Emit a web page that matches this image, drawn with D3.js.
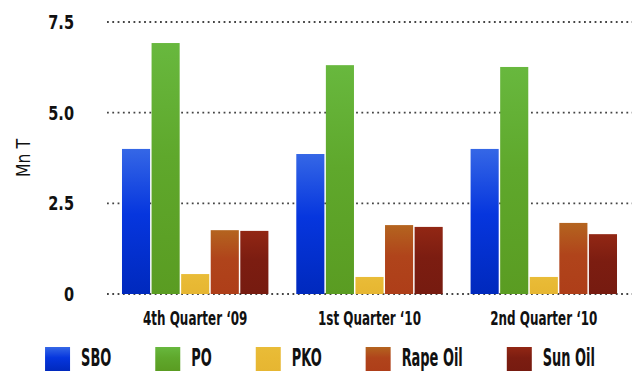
<!DOCTYPE html>
<html>
<head>
<meta charset="utf-8">
<script src="https://cdn.jsdelivr.net/npm/d3@7"></script>
<style>
  html, body { margin: 0; padding: 0; background: #fff; }
  svg { display: block; }
</style>
</head>
<body>
<svg id="chart" width="640" height="371"></svg>
<script>
// Quarterly vegetable oil volumes (million tonnes)
const quarters = ["4th Quarter \u201809", "1st Quarter \u201810", "2nd Quarter \u201810"];
const seriesNames = ["SBO", "PO", "PKO", "Rape Oil", "Sun Oil"];
const sbo = [4.0, 3.86, 4.0];
const po = [6.92, 6.31, 6.26];
const pko = [0.55, 0.47, 0.47];
const rapeOil = [1.76, 1.90, 1.96];
const sunOil = [1.74, 1.85, 1.65];
const yTicks = [0, 2.5, 5.0, 7.5];
const yTickLabels = ["0", "2.5", "5.0", "7.5"];
const yTitle = "Mn T";

const seriesValues = [sbo, po, pko, rapeOil, sunOil];

// Vertical gradient stops per series: [top, mid, bottom]
const seriesGradients = [
  ["#3567e6", "#0636de", "#0029bd"],
  ["#68b83e", "#5fa82c", "#5a9c22"],
  ["#e9bc38", "#e8b934", "#e6b632"],
  ["#b4641f", "#b0441b", "#ae3e19"],
  ["#922714", "#7c1d11", "#761b10"]
];

const svg = d3.select("#chart");
const font = "'DejaVu Sans Condensed', 'DejaVu Sans', sans-serif";

const plot = { left: 107, right: 632, top: 22, bottom: 294 };

const x0 = d3.scaleBand()
  .domain(quarters)
  .range([plot.left, plot.right])
  .paddingInner(0.16)
  .paddingOuter(0.086);

const x1 = d3.scaleBand()
  .domain(seriesNames)
  .range([0, x0.bandwidth()])
  .paddingInner(0.05);

const y = d3.scaleLinear()
  .domain([0, 7.5])
  .range([plot.bottom, plot.top]);

// gradients
const defs = svg.append("defs");
seriesNames.forEach((name, i) => {
  const g = defs.append("linearGradient")
    .attr("id", "grad" + i)
    .attr("x1", 0).attr("y1", 0).attr("x2", 0).attr("y2", 1);
  const stops = seriesGradients[i];
  g.append("stop").attr("offset", "0%").attr("stop-color", stops[0]);
  g.append("stop").attr("offset", "45%").attr("stop-color", stops[1]);
  g.append("stop").attr("offset", "100%").attr("stop-color", stops[2]);
});

// dotted gridlines
svg.append("g")
  .selectAll("line")
  .data(yTicks)
  .join("line")
  .attr("x1", plot.left)
  .attr("x2", plot.right)
  .attr("y1", d => y(d))
  .attr("y2", d => y(d))
  .attr("stroke", "#444")
  .attr("stroke-width", 1.8)
  .attr("stroke-dasharray", "1.8 3.5");

// y tick labels
svg.append("g")
  .selectAll("text")
  .data(yTicks)
  .join("text")
  .attr("transform", d => `translate(74,${y(d) + 7}) scale(0.85,1)`)
  .attr("text-anchor", "end")
  .attr("font-family", font)
  .attr("font-weight", "bold")
  .attr("font-size", 19)
  .attr("fill", "#111")
  .text((d, i) => yTickLabels[i]);

// y axis title
svg.append("text")
  .attr("transform", "translate(30,158) rotate(-90) scale(0.87,1)")
  .attr("text-anchor", "middle")
  .attr("font-family", font)
  .attr("font-size", 20)
  .attr("fill", "#111")
  .text(yTitle);

// bars
const groups = svg.append("g")
  .selectAll("g")
  .data(quarters)
  .join("g")
  .attr("transform", d => `translate(${x0(d)},0)`);

groups.selectAll("rect")
  .data((q, qi) => seriesNames.map((s, si) => ({ s, si, v: seriesValues[si][qi] })))
  .join("rect")
  .attr("x", d => x1(d.s))
  .attr("width", x1.bandwidth())
  .attr("y", d => y(d.v))
  .attr("height", d => y(0) - y(d.v))
  .attr("fill", d => `url(#grad${d.si})`);

// category labels
svg.append("g")
  .selectAll("text")
  .data(quarters)
  .join("text")
  .attr("transform", d => `translate(${x0(d) + x0.bandwidth() / 2},325) scale(0.7,1)`)
  .attr("text-anchor", "middle")
  .attr("font-family", font)
  .attr("font-weight", "bold")
  .attr("font-size", 19)
  .attr("fill", "#111")
  .text(d => d);

// legend, laid out as a centred row
const legend = svg.append("g");
const swW = 25, swH = 24, textGap = 11, itemGap = 44, textScale = 0.6;
const items = legend.selectAll("g")
  .data(seriesNames)
  .join("g");
items.append("rect")
  .attr("width", swW)
  .attr("height", swH)
  .attr("fill", (d, i) => `url(#grad${i})`);
items.append("text")
  .attr("transform", `translate(${swW + textGap},19) scale(${textScale},1)`)
  .attr("font-family", font)
  .attr("font-weight", "bold")
  .attr("font-size", 24)
  .attr("fill", "#111")
  .text(d => d);

let cursor = 0;
const offsets = [];
items.each(function () {
  const t = d3.select(this).select("text").node();
  const w = swW + textGap + t.getComputedTextLength() * textScale;
  offsets.push(cursor);
  cursor += w + itemGap;
});
const totalW = cursor - itemGap;
const startX = (640 - totalW) / 2;
items.attr("transform", (d, i) => `translate(${startX + offsets[i]},347)`);
</script>
</body>
</html>
